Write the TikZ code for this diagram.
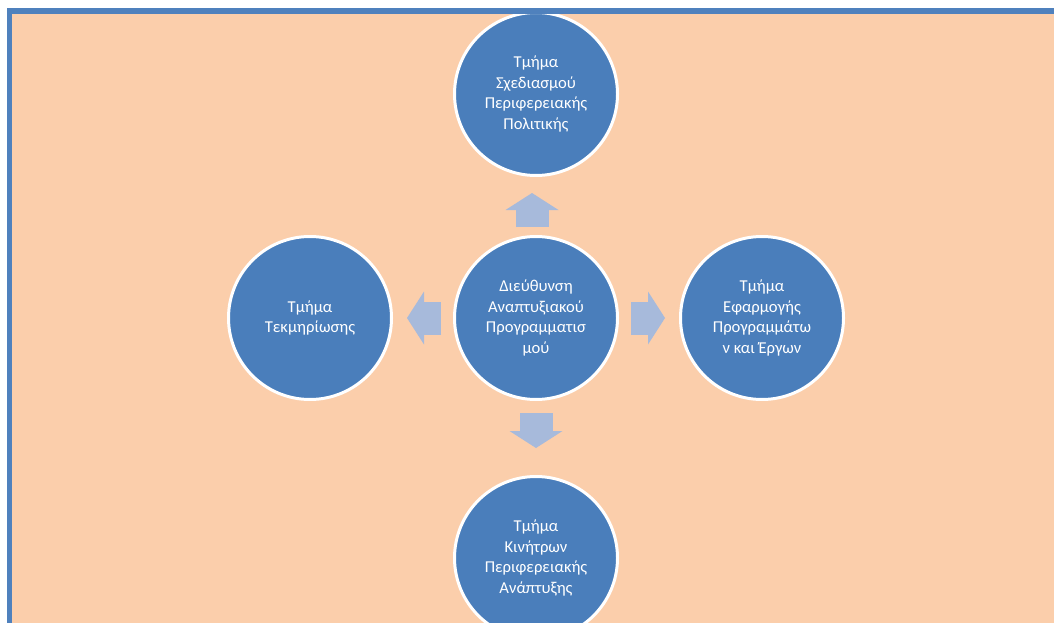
\documentclass[tikz,border=0pt]{standalone}
\usepackage{fontspec}
\setmainfont{Carlito}
\usetikzlibrary{arrows.meta, positioning}
\definecolor{peach}{HTML}{FBCEAB}
\definecolor{unitblue}{HTML}{4A7EBB}
\definecolor{flowblue}{HTML}{A7BADB}
\definecolor{frameblue}{HTML}{4F81BD}

\begin{document}
\begin{tikzpicture}[
    x=1pt, y=-1pt,
    unit/.style={circle, fill=unitblue, draw=white, line width=3pt, minimum size=163pt, inner sep=0pt, align=center, text=white, font=\fontsize{16.6}{20.5}\selectfont},
    flow/.style={draw=flowblue, line width=33pt, -{Triangle[width=53pt, length=17pt, line width=0pt]}},
]
\useasboundingbox (0,0) rectangle (1054,623);
\clip (0,0) rectangle (1054,623);
\fill[white] (0,0) rectangle (1054,623);
\fill[peach] (12,14) rectangle (1054,623);

\node[unit] (ctr) at (536,318) {Διεύθυνση\\Αναπτυξιακού\\Προγραμματισ\\μού};
\node[unit, above=58pt of ctr] (plan) {Τμήμα\\Σχεδιασμού\\Περιφερειακής\\Πολιτικής};
\node[unit, left=60pt of ctr] (docu) {Τμήμα\\Τεκμηρίωσης};
\node[unit, right=60pt of ctr] (impl) {Τμήμα\\Εφαρμογής\\Προγραμμάτω\\ν και Έργων};
\node[unit, below=74pt of ctr] (incent) {Τμήμα\\Κινήτρων\\Περιφερειακής\\Ανάπτυξης};

\draw[flow, shorten <=8pt, shorten >=16pt] ([xshift=-4pt]ctr.north) -- ([xshift=-4pt]plan.south);
\draw[flow, shorten <=12pt, shorten >=14pt] (ctr) -- (docu);
\draw[flow, shorten <=12pt, shorten >=14pt] (ctr) -- (impl);
\draw[flow, shorten <=12pt, shorten >=27pt] (ctr) -- (incent);

% page frame
\draw[frameblue, line width=5.5pt] (9.5,623) |- (1054,11);
\end{tikzpicture}
\end{document}
